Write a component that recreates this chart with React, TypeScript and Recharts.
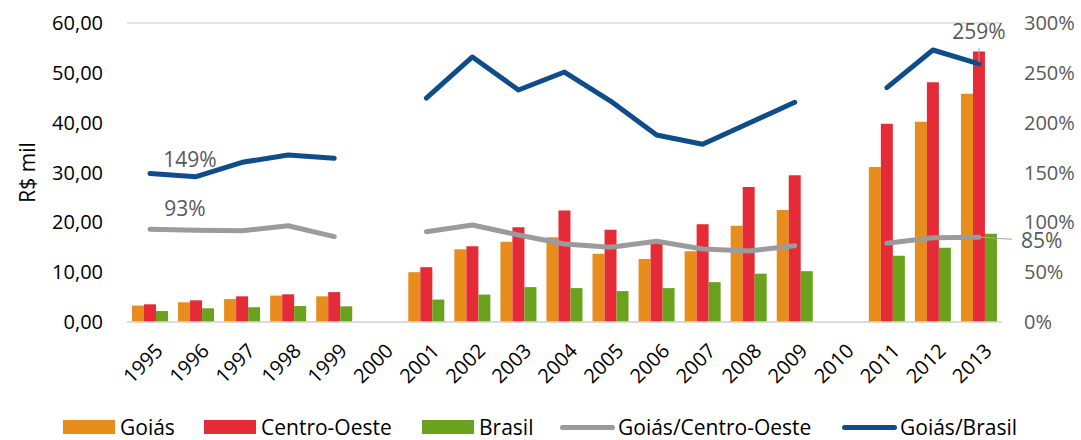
import React from "react";
import {
  Bar,
  CartesianGrid,
  ComposedChart,
  LabelList,
  Legend,
  Line,
  XAxis,
  YAxis,
} from "recharts";

const years = [
  "1995", "1996", "1997", "1998", "1999", "2000", "2001", "2002", "2003", "2004",
  "2005", "2006", "2007", "2008", "2009", "2010", "2011", "2012", "2013",
];

// R$ mil
const goias = [3.3, 3.95, 4.6, 5.3, 5.15, null, 10.0, 14.6, 16.1, 17.0, 13.7, 12.65, 14.2, 19.3, 22.5, null, 31.1, 40.2, 45.8];
const centroOeste = [3.55, 4.35, 5.15, 5.55, 6.0, null, 11.0, 15.2, 19.0, 22.35, 18.5, 15.8, 19.6, 27.1, 29.45, null, 39.8, 48.1, 54.3];
const brasil = [2.2, 2.75, 2.95, 3.2, 3.15, null, 4.5, 5.5, 7.0, 6.8, 6.2, 6.8, 8.0, 9.7, 10.2, null, 13.3, 14.9, 17.7];

// %
const goiasCentroOeste = [93, 92, 91.6, 96.6, 85.6, null, 90.6, 97.3, 87.3, 78.3, 75, 81, 73.2, 71.2, 76.6, null, 79, 84.6, 85];
const goiasBrasil = [149, 145.8, 160.2, 167.6, 164.3, null, 224.7, 265.9, 232.8, 250.8, 221.7, 187.6, 178.3, 199.4, 220.4, null, 235.1, 272.9, 259];

const leftTicks = [0, 10, 20, 30, 40, 50, 60];
const rightTicks = [0, 50, 100, 150, 200, 250, 300];

const data = years.map((year, i) => ({
  year,
  goias: goias[i],
  centroOeste: centroOeste[i],
  brasil: brasil[i],
  goiasCentroOeste: goiasCentroOeste[i],
  goiasBrasil: goiasBrasil[i],
}));

const FONT = "'Open Sans', 'Noto Sans', sans-serif";
const C_ORANGE = "#E88C1B";
const C_RED = "#E52B37";
const C_GREEN = "#6AA21E";
const C_GRAY = "#9B9B9B";
const C_BLUE = "#0F4C8A";
const C_LABEL = "#595959";

const legendItems = [
  { name: "Goiás", color: C_ORANGE, kind: "bar", left: 63 },
  { name: "Centro-Oeste", color: C_RED, kind: "bar", left: 204 },
  { name: "Brasil", color: C_GREEN, kind: "bar", left: 422 },
  { name: "Goiás/Centro-Oeste", color: C_GRAY, kind: "line", left: 560 },
  { name: "Goiás/Brasil", color: C_BLUE, kind: "line", left: 842 },
];

const fmtLeft = (v: number) => v.toFixed(2).replace(".", ",");

function XTick({ x, y, payload }: any) {
  const px = x + 4;
  return (
    <text
      x={px}
      y={y}
      dy="0.72em"
      transform={`rotate(-45 ${px} ${y})`}
      textAnchor="end"
      fontSize={20}
      fontFamily={FONT}
      fill="#000"
    >
      {payload.value}
    </text>
  );
}

function renderLegend() {
  return (
    <div style={{ position: "relative", width: 1081, height: 26, fontFamily: FONT }}>
      {legendItems.map((it) => (
        <div
          key={it.name}
          style={{
            position: "absolute",
            left: it.left,
            top: 0,
            height: 26,
            display: "flex",
            alignItems: "center",
            whiteSpace: "nowrap",
          }}
        >
          {it.kind === "bar" ? (
            <span style={{ width: 52, height: 14, background: it.color, marginRight: 5 }} />
          ) : (
            <span
              style={{ width: 55, height: 5, borderRadius: 3, background: it.color, marginRight: 3 }}
            />
          )}
          <span style={{ fontSize: 21, lineHeight: "26px", color: "#000" }}>{it.name}</span>
        </div>
      ))}
    </div>
  );
}

const blueLabel = (props: any) => {
  const { x, y, value, index } = props;
  if (value == null) return null;
  if (index === 0) {
    return (
      <text x={x + 40} y={y - 14} textAnchor="middle" dominantBaseline="central" fontSize={21} fontFamily={FONT} fill={C_LABEL}>
        {`${Math.round(value)}%`}
      </text>
    );
  }
  if (index === years.length - 1) {
    return (
      <g>
        <line x1={x} y1={y - 2} x2={x} y2={y - 16} stroke="#a6a6a6" strokeWidth={1} />
        <text x={x} y={y - 33} textAnchor="middle" dominantBaseline="central" fontSize={21} fontFamily={FONT} fill={C_LABEL}>
          {`${Math.round(value)}%`}
        </text>
      </g>
    );
  }
  return null;
};

const grayLabel = (props: any) => {
  const { x, y, value, index } = props;
  if (value == null) return null;
  if (index === 0) {
    return (
      <text x={x + 35} y={y - 21} textAnchor="middle" dominantBaseline="central" fontSize={21} fontFamily={FONT} fill={C_LABEL}>
        {`${Math.round(value)}%`}
      </text>
    );
  }
  if (index === years.length - 1) {
    return (
      <g>
        <line x1={x + 2} y1={y} x2={x + 33} y2={y + 2} stroke="#a6a6a6" strokeWidth={1} />
        <text x={x + 42} y={y + 3} dominantBaseline="central" textAnchor="start" fontSize={21} fontFamily={FONT} fill={C_LABEL}>
          {`${Math.round(value)}%`}
        </text>
      </g>
    );
  }
  return null;
};

export default function App() {
  return (
    <div style={{ position: "absolute", left: 0, top: 0, width: 1081, height: 440, background: "#fff" }}>
      <ComposedChart
        width={1081}
        height={440}
        data={data}
        margin={{ top: 23, right: 0, bottom: 0, left: 0 }}
        barGap={0}
        barSize={12}
      >
        <CartesianGrid vertical={false} stroke="#d9d9d9" strokeWidth={1.5} />
        <XAxis
          dataKey="year"
          height={92}
          interval={0}
          tickLine={false}
          axisLine={{ stroke: "#d9d9d9", strokeWidth: 1.5 }}
          tickSize={0}
          tickMargin={20}
          tick={<XTick />}
        />
        <YAxis
          yAxisId="left"
          width={127}
          domain={[0, 60]}
          ticks={leftTicks}
          tickFormatter={fmtLeft}
          tickLine={false}
          axisLine={false}
          tickSize={0}
          tickMargin={24}
          tick={{ fontSize: 20, fontFamily: FONT, fill: "#000" }}
          label={{ value: "R$ mil", angle: -90, position: "center", dx: -36, fontSize: 21, fontFamily: FONT, fill: "#000" }}
        />
        <YAxis
          yAxisId="right"
          orientation="right"
          width={79}
          domain={[0, 300]}
          ticks={rightTicks}
          tickFormatter={(v: number) => `${v}%`}
          tickLine={false}
          axisLine={false}
          tickSize={0}
          tickMargin={22}
          tick={{ fontSize: 20, fontFamily: FONT, fill: C_LABEL, textAnchor: "start" }}
        />
        <Legend verticalAlign="bottom" align="left" height={26} content={renderLegend} />
        <Bar yAxisId="left" dataKey="goias" name="Goiás" fill={C_ORANGE} isAnimationActive={false} />
        <Bar yAxisId="left" dataKey="centroOeste" name="Centro-Oeste" fill={C_RED} isAnimationActive={false} />
        <Bar yAxisId="left" dataKey="brasil" name="Brasil" fill={C_GREEN} isAnimationActive={false} />
        <Line
          yAxisId="right"
          dataKey="goiasCentroOeste"
          name="Goiás/Centro-Oeste"
          stroke={C_GRAY}
          strokeWidth={5}
          strokeLinecap="round"
          strokeLinejoin="round"
          dot={false}
          activeDot={false}
          isAnimationActive={false}
        >
          <LabelList dataKey="goiasCentroOeste" content={grayLabel} />
        </Line>
        <Line
          yAxisId="right"
          dataKey="goiasBrasil"
          name="Goiás/Brasil"
          stroke={C_BLUE}
          strokeWidth={5}
          strokeLinecap="round"
          strokeLinejoin="round"
          dot={false}
          activeDot={false}
          isAnimationActive={false}
        >
          <LabelList dataKey="goiasBrasil" content={blueLabel} />
        </Line>
      </ComposedChart>
    </div>
  );
}
